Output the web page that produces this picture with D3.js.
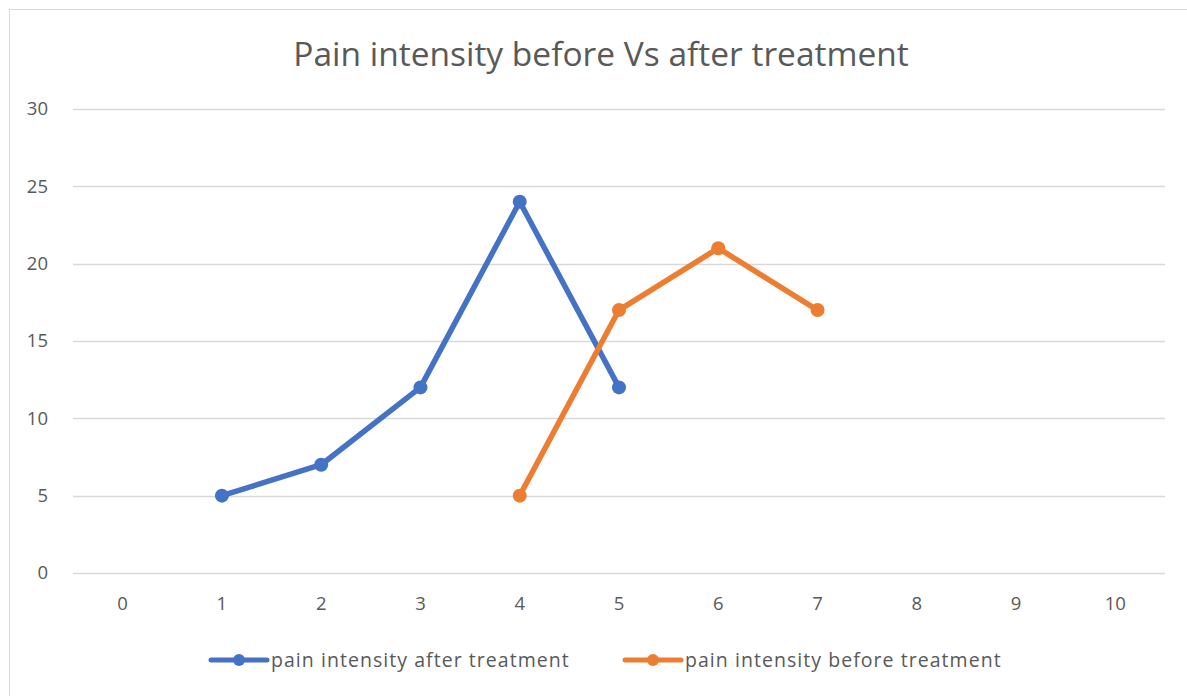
<!DOCTYPE html>
<html>
<head>
<meta charset="utf-8">
<script src="https://cdn.jsdelivr.net/npm/d3@7"></script>
<style>
  body { margin: 0; background: #fff; }
  text { font-family: "Open Sans", "Noto Sans", sans-serif; fill: #595959; }
</style>
</head>
<body>
<div id="chart"></div>
<script>
"use strict";

var categories = [0, 1, 2, 3, 4, 5, 6, 7, 8, 9, 10];
var yTicks = [0, 5, 10, 15, 20, 25, 30];

var afterX = [1, 2, 3, 4, 5];
var afterY = [5, 7, 12, 24, 12];
var beforeX = [4, 5, 6, 7];
var beforeY = [5, 17, 21, 17];

var seriesNames = ["pain intensity after treatment", "pain intensity before treatment"];
var seriesColors = ["#4472c4", "#ed7d31"];

var W = 1187, H = 696;
var margin = {top: 109, right: 22, bottom: 123, left: 73};

var svg = d3.select("#chart").append("svg")
  .attr("width", W)
  .attr("height", H);

// chart border (only top/left visible in frame)
svg.append("rect")
  .attr("x", 9.5).attr("y", 9.5)
  .attr("width", W + 20).attr("height", H + 20)
  .attr("fill", "none")
  .attr("stroke", "#d9d9d9");

var x = d3.scaleBand().domain(categories).range([margin.left, W - margin.right]).padding(0);
var y = d3.scaleLinear().domain([0, 30]).range([H - margin.bottom, margin.top]);

// gridlines
svg.append("g").selectAll("line")
  .data(yTicks)
  .enter().append("line")
  .attr("x1", margin.left).attr("x2", W - margin.right)
  .attr("y1", function(d) { return Math.round(y(d)) + 0.5; })
  .attr("y2", function(d) { return Math.round(y(d)) + 0.5; })
  .attr("stroke", "#d9d9d9")
  .attr("stroke-width", 1.3);

// y labels
svg.append("g").selectAll("text")
  .data(yTicks)
  .enter().append("text")
  .attr("x", 48)
  .attr("y", function(d) { return y(d); })
  .attr("dy", "0.35em")
  .attr("text-anchor", "end")
  .style("font-size", "18.5px")
  .text(function(d) { return d; });

// x labels
svg.append("g").selectAll("text")
  .data(categories)
  .enter().append("text")
  .attr("x", function(d) { return x(d) + x.bandwidth() / 2; })
  .attr("y", 604)
  .attr("dy", "0.35em")
  .attr("text-anchor", "middle")
  .style("font-size", "18.5px")
  .text(function(d) { return d; });

// title
svg.append("text")
  .attr("x", 601)
  .attr("y", 54)
  .attr("dy", "0.35em")
  .attr("text-anchor", "middle")
  .style("font-size", "33.5px")
  .text("Pain intensity before Vs after treatment");

var line = d3.line()
  .x(function(d) { return x(d[0]) + x.bandwidth() / 2; })
  .y(function(d) { return y(d[1]); });

var series = [
  d3.zip(afterX, afterY),
  d3.zip(beforeX, beforeY)
];

series.forEach(function(pts, i) {
  var g = svg.append("g");
  g.append("path")
    .datum(pts)
    .attr("d", line)
    .attr("fill", "none")
    .attr("stroke", seriesColors[i])
    .attr("stroke-width", 5.5)
    .attr("stroke-linejoin", "round")
    .attr("stroke-linecap", "round");
  g.selectAll("circle")
    .data(pts)
    .enter().append("circle")
    .attr("cx", function(d) { return x(d[0]) + x.bandwidth() / 2; })
    .attr("cy", function(d) { return y(d[1]); })
    .attr("r", 7)
    .attr("fill", seriesColors[i]);
});

// legend
var legendX = [211, 625];
var legend = svg.append("g").selectAll("g")
  .data(seriesNames)
  .enter().append("g")
  .attr("transform", function(d, i) { return "translate(" + legendX[i] + ",660)"; });

legend.append("line")
  .attr("x1", 0).attr("x2", 56)
  .attr("stroke", function(d, i) { return seriesColors[i]; })
  .attr("stroke-width", 5)
  .attr("stroke-linecap", "round");
legend.append("circle")
  .attr("cx", 28)
  .attr("r", 6)
  .attr("fill", function(d, i) { return seriesColors[i]; });
legend.append("text")
  .attr("x", 60)
  .attr("dy", "0.35em")
  .style("font-size", "19.5px")
  .style("letter-spacing", "1.05px")
  .text(function(d) { return d; });
</script>
</body>
</html>
